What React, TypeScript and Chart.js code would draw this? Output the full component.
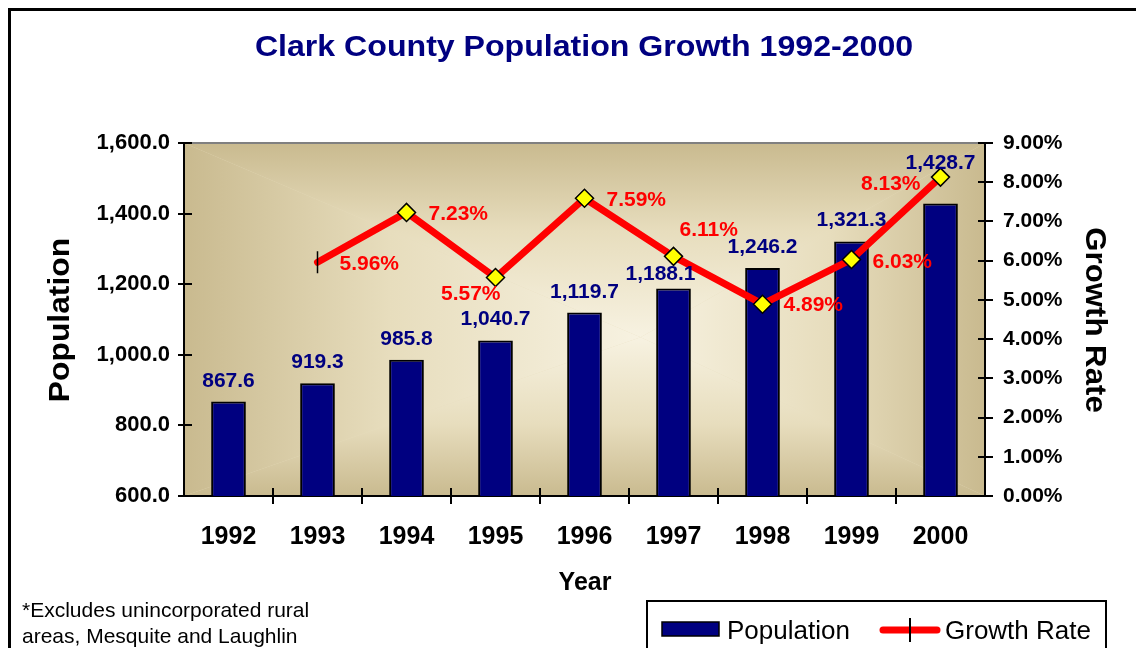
import React, { useEffect, useRef } from 'react';
import { Chart, registerables } from 'chart.js';

Chart.register(...registerables);

// ---------- data ----------
const years = ['1992', '1993', '1994', '1995', '1996', '1997', '1998', '1999', '2000'];
const population = [867.6, 919.3, 985.8, 1040.7, 1119.7, 1188.1, 1246.2, 1321.3, 1428.7];
const growthRate = [null, 5.96, 7.23, 5.57, 7.59, 6.11, 4.89, 6.03, 8.13];
const populationTickRange = [600, 1600, 200];
const growthTickRange = [0, 9, 1];
const chartTitle = 'Clark County Population Growth 1992-2000';
const xTitle = 'Year';
const yTitle = 'Population';
const y1Title = 'Growth Rate';
const footnote = ['*Excludes unincorporated rural', 'areas, Mesquite and Laughlin'];
const seriesNames = ['Population', 'Growth Rate'];

// ---------- styles ----------
const FONT = "'Liberation Sans', Arial, Helvetica, sans-serif";
const NAVY = '#000080';
const RED = '#ff0000';

// label placement tweaks (style only)
const popLabelShift: [number, number][] = [
  [0, 0], [0, 0], [0, 0], [0, 0], [0, 0], [-13, 7], [0, 0], [0, 0], [0, -19],
];
const rateLabelPlace: [CanvasTextAlign, number, number][] = [
  ['left', 0, 0], ['left', 22, 8], ['left', 22, 8], ['right', 5, 22], ['left', 22, 8],
  ['left', 6, -20], ['left', 21, 7], ['left', 21, 9], ['right', -20, 13],
];

function drawText(
  ctx: CanvasRenderingContext2D, s: string, x: number, y: number, font: string,
  color: string, align: CanvasTextAlign = 'left', rot = 0, sx = 1,
) {
  ctx.save();
  ctx.translate(x, y);
  if (rot) ctx.rotate(rot);
  ctx.scale(sx, 1);
  ctx.font = font;
  ctx.fillStyle = color;
  ctx.textAlign = align;
  ctx.textBaseline = 'alphabetic';
  ctx.fillText(s, 0, 0);
  ctx.restore();
}

const decor = {
  id: 'decor',
  beforeDraw(chart: any) {
    const { ctx, chartArea: a } = chart;
    const cx = a.left + (a.right - a.left) * 0.57;
    const cy = a.top + (a.bottom - a.top) * 0.55;
    const outer = '#c9ba8f';
    const mid = '#e7ddbd';
    const inner = '#f7f2e1';
    ctx.save();
    ctx.fillStyle = mid;
    ctx.fillRect(a.left, a.top, a.right - a.left, a.bottom - a.top);
    ctx.restore();
    const tris: [number, number, number, number, number, number][] = [
      [a.left, a.top, a.left, a.bottom, a.left, cy],
      [a.right, a.top, a.right, a.bottom, a.right, cy],
      [a.left, a.top, a.right, a.top, cx, a.top],
      [a.left, a.bottom, a.right, a.bottom, cx, a.bottom],
    ];
    for (const t of tris) {
      ctx.save();
      const isVert = t[4] === cx;
      const g = isVert
        ? ctx.createLinearGradient(cx, t[5], cx, cy)
        : ctx.createLinearGradient(t[4], cy, cx, cy);
      g.addColorStop(0, outer);
      g.addColorStop(0.45, mid);
      g.addColorStop(1, inner);
      ctx.fillStyle = g;
      ctx.beginPath();
      ctx.moveTo(t[0], t[1]);
      ctx.lineTo(t[2], t[3]);
      ctx.lineTo(cx, cy);
      ctx.closePath();
      ctx.fill();
      ctx.restore();
    }
    ctx.save();
    ctx.strokeStyle = '#808080';
    ctx.lineWidth = 2;
    ctx.beginPath();
    ctx.moveTo(a.left, a.top);
    ctx.lineTo(a.right, a.top);
    ctx.stroke();
    ctx.restore();
  },
  afterDatasetsDraw(chart: any) {
    const { ctx } = chart;
    const barMeta = chart.getDatasetMeta(0);
    barMeta.data.forEach((bar: any, i: number) => {
      const v = population[i];
      const s = v.toLocaleString('en-US', { minimumFractionDigits: 1, maximumFractionDigits: 1 });
      const [dx, dy] = popLabelShift[i];
      drawText(ctx, s, bar.x + dx, bar.y - 15 + dy, `bold 21px ${FONT}`, NAVY, 'center');
    });
    const lineMeta = chart.getDatasetMeta(1);
    lineMeta.data.forEach((pt: any, i: number) => {
      const v = growthRate[i];
      if (v == null) return;
      const [align, dx, dy] = rateLabelPlace[i];
      drawText(ctx, v.toFixed(2) + '%', pt.x + dx, pt.y + dy, `bold 21px ${FONT}`, RED, align);
    });
  },
  afterDraw(chart: any) {
    const { ctx, chartArea: a, scales } = chart;
    ctx.save();
    ctx.strokeStyle = '#000';
    ctx.lineWidth = 2;
    ctx.beginPath();
    scales.y.ticks.forEach((t: any) => {
      const py = Math.round(scales.y.getPixelForValue(t.value));
      ctx.moveTo(a.left - 6, py);
      ctx.lineTo(a.left + 8, py);
    });
    scales.y1.ticks.forEach((t: any) => {
      const py = Math.round(scales.y1.getPixelForValue(t.value));
      ctx.moveTo(a.right - 7, py);
      ctx.lineTo(a.right + 8, py);
    });
    for (let i = 1; i < years.length; i++) {
      const px = Math.round((scales.x.getPixelForValue(i - 1) + scales.x.getPixelForValue(i)) / 2);
      ctx.moveTo(px, a.bottom - 8);
      ctx.lineTo(px, a.bottom + 8);
    }
    ctx.stroke();
    ctx.restore();

    // titles
    drawText(ctx, chartTitle, 573, 45, `bold 30px ${FONT}`, NAVY, 'center', 0, 1.07);
    drawText(ctx, yTitle, 58, 309, `bold 30px ${FONT}`, '#000', 'center', -Math.PI / 2, 1.06);
    drawText(ctx, y1Title, 1075, 309, `bold 30px ${FONT}`, '#000', 'center', Math.PI / 2, 1.04);
    drawText(ctx, xTitle, 574, 579, `bold 25px ${FONT}`, '#000', 'center');

    // footnote
    drawText(ctx, footnote[0], 11, 606, `21px ${FONT}`, '#000');
    drawText(ctx, footnote[1], 11, 632, `21px ${FONT}`, '#000');

    // legend
    ctx.save();
    ctx.strokeStyle = '#000';
    ctx.lineWidth = 2;
    ctx.strokeRect(636, 590, 459, 60);
    ctx.fillStyle = NAVY;
    ctx.fillRect(651, 611, 57, 14);
    ctx.lineWidth = 1.5;
    ctx.strokeRect(651, 611, 57, 14);
    ctx.strokeStyle = RED;
    ctx.lineWidth = 7;
    ctx.lineCap = 'round';
    ctx.beginPath();
    ctx.moveTo(872, 619);
    ctx.lineTo(926, 619);
    ctx.stroke();
    ctx.strokeStyle = '#000';
    ctx.lineWidth = 2;
    ctx.lineCap = 'butt';
    ctx.beginPath();
    ctx.moveTo(899, 607);
    ctx.lineTo(899, 631);
    ctx.stroke();
    ctx.restore();
    drawText(ctx, seriesNames[0], 716, 628, `26px ${FONT}`, '#000');
    drawText(ctx, seriesNames[1], 934, 628, `26px ${FONT}`, '#000');
  },
};

export default function App() {
  const ref = useRef<HTMLCanvasElement | null>(null);

  useEffect(() => {
    document.documentElement.style.overflow = 'hidden';
    document.body.style.overflow = 'hidden';
    if (!ref.current) return;
    const chart = new Chart(ref.current, {
      data: {
        labels: years,
        datasets: [
          {
            type: 'bar',
            label: seriesNames[0],
            data: population,
            backgroundColor: NAVY,
            borderColor: '#000',
            borderWidth: 2,
            categoryPercentage: 1,
            barPercentage: 0.39,
            yAxisID: 'y',
            order: 2,
          },
          {
            type: 'line',
            label: seriesNames[1],
            data: growthRate,
            borderColor: RED,
            borderWidth: 7,
            borderJoinStyle: 'round',
            borderCapStyle: 'round',
            pointStyle: growthRate.map((_, i) => (i === 1 ? 'line' : 'rectRot')),
            pointRotation: growthRate.map((_, i) => (i === 1 ? 90 : 0)),
            pointRadius: growthRate.map((_, i) => (i === 1 ? 11 : 9)),
            pointBackgroundColor: '#ffff00',
            pointBorderColor: '#000',
            pointBorderWidth: 1.5,
            tension: 0,
            yAxisID: 'y1',
            order: 1,
          },
        ],
      } as any,
      options: {
        responsive: false,
        animation: false,
        devicePixelRatio: 1,
        layout: { padding: { left: 0, right: 0, top: 132, bottom: 0 } },
        plugins: {
          legend: { display: false },
          title: { display: false },
          tooltip: { enabled: false },
        },
        scales: {
          x: {
            type: 'category',
            offset: true,
            grid: { display: false, drawTicks: false, tickLength: 0 },
            border: { display: true, color: '#000', width: 2 },
            ticks: {
              color: '#000',
              font: { family: FONT, size: 25, weight: 'bold' },
              padding: 26,
              autoSkip: false,
              maxRotation: 0,
            },
            afterFit: (s: any) => { s.height = 152; },
          },
          y: {
            type: 'linear',
            position: 'left',
            min: populationTickRange[0],
            max: populationTickRange[1],
            grid: { display: false, drawTicks: false, tickLength: 0 },
            border: { display: true, color: '#000', width: 2 },
            ticks: {
              stepSize: populationTickRange[2],
              color: '#000',
              font: { family: FONT, size: 22, weight: 'bold' },
              padding: 14,
              callback: (v: any) =>
                Number(v).toLocaleString('en-US', { minimumFractionDigits: 1, maximumFractionDigits: 1 }),
            },
            afterFit: (s: any) => { s.width = 173; },
          },
          y1: {
            type: 'linear',
            position: 'right',
            min: growthTickRange[0],
            max: growthTickRange[1],
            grid: { display: false, drawTicks: false, tickLength: 0 },
            border: { display: true, color: '#000', width: 2 },
            ticks: {
              stepSize: growthTickRange[2],
              color: '#000',
              font: { family: FONT, size: 21, weight: 'bold' },
              padding: 18,
              callback: (v: any) => Number(v).toFixed(2) + '%',
            },
            afterFit: (s: any) => { s.width = 159; },
          },
        },
      } as any,
      plugins: [decor],
    });
    return () => chart.destroy();
  }, []);

  return (
    <div
      style={{
        width: 1136,
        height: 640,
        borderTop: '3px solid #000',
        borderLeft: '3px solid #000',
        boxSizing: 'border-box',
        overflow: 'hidden',
      }}
    >
      <canvas ref={ref} width={1133} height={637} style={{ display: 'block' }} />
    </div>
  );
}
